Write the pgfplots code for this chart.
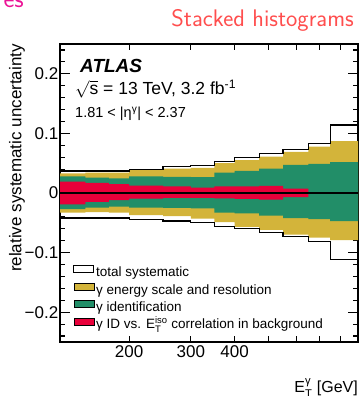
\documentclass[border=0pt]{standalone}
\usepackage{fontspec}
\setmainfont{Liberation Sans}
\usepackage{amsmath}
\usepackage{pgfplots}
\pgfplotsset{compat=1.18}
\usepgfplotslibrary{fillbetween}
\usepackage{pgfplotstable}
\definecolor{escol}{RGB}{211,180,58}
\definecolor{idcol}{RGB}{34,142,104}
\definecolor{redcol}{RGB}{232,0,58}
\definecolor{titred}{RGB}{255,78,78}
\definecolor{magpink}{RGB}{235,20,150}

\pgfplotstableread{
x    totu   totd    escu   escd    idu     idd     redu    redd
125  0.037 -0.042   0.033 -0.033   0.028  -0.027   0.019  -0.019
150  0.037 -0.042   0.034 -0.032   0.026  -0.0245  0.017  -0.015
175  0.037 -0.042   0.034 -0.033   0.0245 -0.023   0.015  -0.012
200  0.040 -0.044   0.039 -0.037   0.028  -0.0245  0.0125 -0.0096
250  0.044 -0.047   0.041 -0.039   0.027  -0.025   0.011  -0.008
300  0.046 -0.049   0.042 -0.043   0.0265 -0.026   0.009  -0.008
350  0.053 -0.056   0.050 -0.049   0.034  -0.033   0.011  -0.009
400  0.059 -0.060   0.055 -0.057   0.037  -0.034   0.011  -0.010
470  0.066 -0.066   0.061 -0.062   0.041  -0.038   0.012  -0.011
550  0.073 -0.073   0.069 -0.070   0.047  -0.042   0.0075 -0.007
650  0.083 -0.082   0.078 -0.075   0.049  -0.044   0      0
750  0.114 -0.111   0.087 -0.079   0.052  -0.047   0      0
900  0.114 -0.111   0.087 -0.079   0.052  -0.047   0      0
}\sysdata

\begin{document}
\begin{tikzpicture}
\begin{axis}[
  at={(60pt,54pt)}, anchor=south west,
  scale only axis, width=298pt, height=298pt,
  xmode=log, xmin=127, xmax=900,
  ymin=-0.25, ymax=0.25,
  axis line style={line width=1.3pt},
  every tick/.style={black, line width=1.1pt},
  tick align=inside,
  xtick={200,300,400,500,600,700,800},
  xticklabels={200,300,400,,,,},
  minor xtick={},
  ytick={-0.2,-0.1,0,0.1,0.2},
  yticklabels={−0.2,−0.1,0,0.1,0.2},
  minor ytick={-0.24,-0.22,-0.18,-0.16,-0.14,-0.12,-0.08,-0.06,-0.04,-0.02,0.02,0.04,0.06,0.08,0.12,0.14,0.16,0.18,0.22,0.24},
  major tick length=10pt, minor tick length=5pt,
  xtick style={/pgfplots/major tick length=6pt},
  ticklabel style={font=\fontsize{17pt}{20pt}\selectfont},
  yticklabel style={inner xsep=1.5pt},
  xticklabel style={inner ysep=3pt},
  ylabel={relative systematic uncertainty},
  ylabel style={at={(axis description cs:-0.144,1)}, anchor=east, inner sep=0pt, font=\fontsize{17pt}{20pt}\selectfont},
  xlabel={E$^{\text{γ}}_{\text{T}}$ [GeV]},
  xlabel style={at={(axis description cs:1,-0.171)}, anchor=base east, inner sep=0pt, font=\fontsize{16pt}{19pt}\selectfont},
  legend image code/.code={\draw[#1] (0pt,0.5pt) rectangle (20pt,7.5pt);},
  legend style={draw=none, fill=none, at={(0.034,0.265)}, anchor=north west,
    font=\fontsize{13.5pt}{16pt}\selectfont, row sep=3.2pt,
    nodes={inner xsep=1.8pt, inner ysep=0pt, text height=10pt, text depth=3pt}},
  legend cell align=left,
]
% energy scale and resolution
\addplot[name path=eu, const plot, draw=none, forget plot] table[x=x,y=escu]{\sysdata};
\addplot[name path=ed, const plot, draw=none, forget plot] table[x=x,y=escd]{\sysdata};
\addplot[fill=escol, draw=none, forget plot] fill between[of=eu and ed];
% identification
\addplot[name path=iu, const plot, draw=none, forget plot] table[x=x,y=idu]{\sysdata};
\addplot[name path=id, const plot, draw=none, forget plot] table[x=x,y=idd]{\sysdata};
\addplot[fill=idcol, draw=none, forget plot] fill between[of=iu and id];
% ID vs isolation correlation
\addplot[name path=ru, const plot, draw=none, forget plot] table[x=x,y=redu]{\sysdata};
\addplot[name path=rd, const plot, draw=none, forget plot] table[x=x,y=redd]{\sysdata};
\addplot[fill=redcol, draw=none, forget plot] fill between[of=ru and rd];
% zero line
\addplot[black, line width=1.2pt, forget plot] coordinates {(125,0) (900,0)};
% total systematic
\addplot[const plot, black, line width=1.2pt, forget plot] table[x=x,y=totu]{\sysdata};
\addplot[const plot, black, line width=1.2pt, forget plot] table[x=x,y=totd]{\sysdata};

\addlegendimage{draw=black, fill=white, line width=0.9pt}
\addlegendentry{total systematic}
\addlegendimage{draw=none, fill=escol}
\addlegendentry{γ energy scale and resolution}
\addlegendimage{draw=none, fill=idcol}
\addlegendentry{γ identification}
\addlegendimage{draw=none, fill=redcol}
\addlegendentry{γ ID vs. E$^{\text{iso}}_{\text{T}}$ correlation in background}
\end{axis}

\node[anchor=base west, inner sep=0pt, font=\fontsize{19pt}{22pt}\selectfont\bfseries\itshape] at (80pt,323pt) {ATLAS};
\node[anchor=base west, inner sep=0pt, font=\fontsize{17.5pt}{21pt}\selectfont] at (75pt,301pt) {$\sqrt{\text{s}}$ = 13 TeV, 3.2 fb\textsuperscript{-1}};
\node[anchor=base west, inner sep=0pt, font=\fontsize{14.5pt}{17pt}\selectfont] at (75pt,278pt) {1.81 < |η\textsuperscript{γ}| < 2.37};

\node[anchor=base east, inner sep=0pt, text=titred, font=\sffamily\fontsize{24pt}{28pt}\selectfont] at (354pt,369.5pt) {Stacked histograms};
\node[anchor=base east, inner sep=0pt, text=magpink, font=\sffamily\fontsize{26pt}{30pt}\selectfont] at (24pt,388pt) {es};

\pgfresetboundingbox
\path[use as bounding box] (0pt,0pt) rectangle (359pt,396pt);
\end{tikzpicture}
\end{document}
